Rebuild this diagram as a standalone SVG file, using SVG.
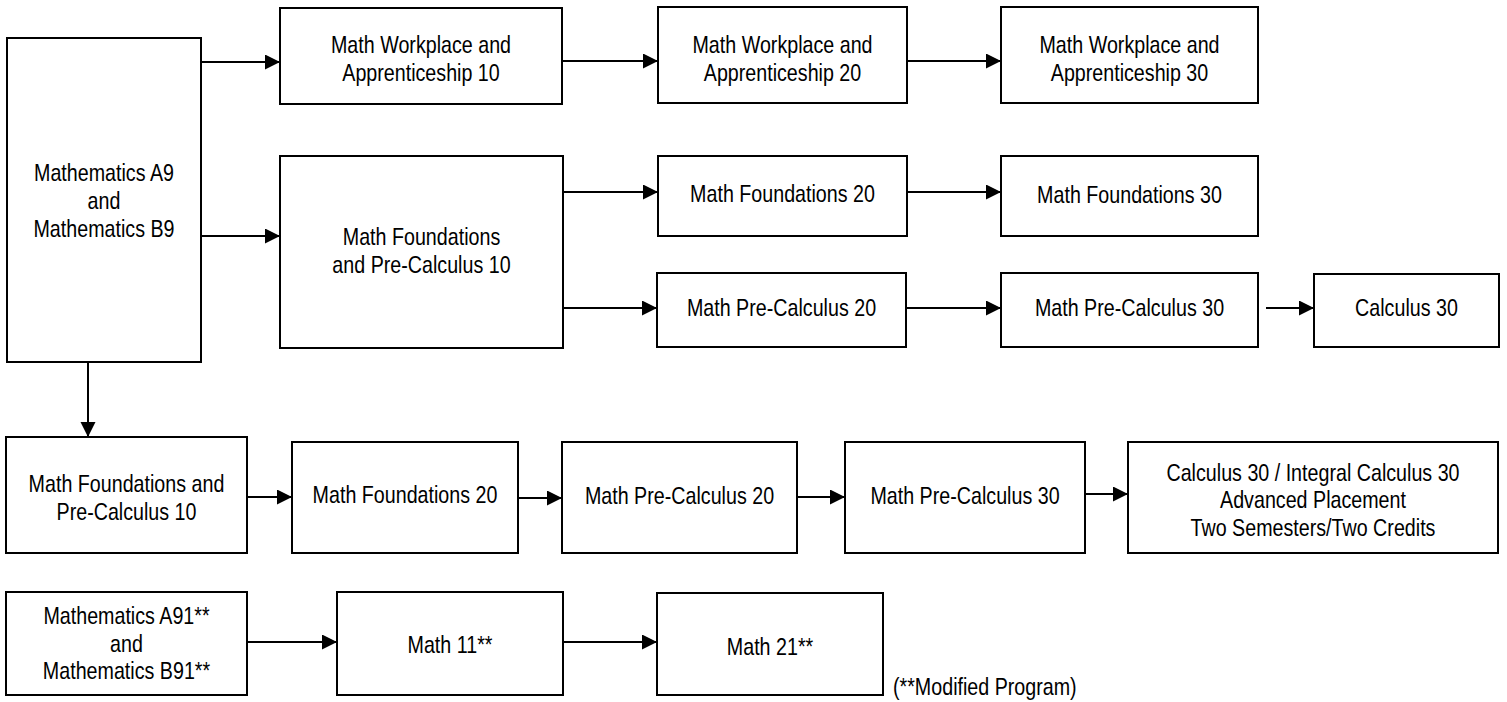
<svg xmlns="http://www.w3.org/2000/svg" width="1507" height="702" viewBox="0 0 1507 702">
<style>
rect.box{fill:#fff;stroke:#000;stroke-width:2}
text{font-family:"Liberation Sans",Arial,sans-serif;font-size:24px;fill:#000;text-anchor:middle}
text.note{text-anchor:start}
.conn line{stroke:#000;stroke-width:2;marker-end:url(#arr)}
</style>
<defs>
<marker id="arr" markerUnits="userSpaceOnUse" markerWidth="16" markerHeight="16" refX="15" refY="7.5" orient="auto">
<path d="M0,0 L15,7.5 L0,15 z" fill="#000"/>
</marker>
</defs>
<rect width="1507" height="702" fill="#fff"/>
<g class="conn" id="connectors">
<line x1="201" y1="62" x2="280" y2="62"/>
<line x1="201" y1="236" x2="280" y2="236"/>
<line x1="562" y1="61" x2="658" y2="61"/>
<line x1="907" y1="61" x2="1001" y2="61"/>
<line x1="563" y1="192" x2="658" y2="192"/>
<line x1="563" y1="308" x2="657" y2="308"/>
<line x1="907" y1="192" x2="1001" y2="192"/>
<line x1="906" y1="308" x2="1001" y2="308"/>
<line x1="1266" y1="308" x2="1314" y2="308"/>
<line x1="88" y1="362" x2="88" y2="437"/>
<line x1="247" y1="497" x2="292" y2="497"/>
<line x1="518" y1="498" x2="562" y2="498"/>
<line x1="797" y1="497" x2="845" y2="497"/>
<line x1="1085" y1="494" x2="1128" y2="494"/>
<line x1="247" y1="642" x2="337" y2="642"/>
<line x1="563" y1="642" x2="657" y2="642"/>
</g>
<g id="n_ab9"><rect class="box" x="7" y="38" width="194" height="324"/><g transform="translate(104,0) scale(0.82,1)"><text x="0" y="181">Mathematics A9</text><text x="0" y="209">and</text><text x="0" y="237">Mathematics B9</text></g></g>
<g id="n_mwa10"><rect class="box" x="280" y="8" width="282" height="96"/><g transform="translate(421,0) scale(0.82,1)"><text x="0" y="53">Math Workplace and</text><text x="0" y="81">Apprenticeship 10</text></g></g>
<g id="n_mwa20"><rect class="box" x="658" y="7" width="249" height="96"/><g transform="translate(782.5,0) scale(0.82,1)"><text x="0" y="53">Math Workplace and</text><text x="0" y="81">Apprenticeship 20</text></g></g>
<g id="n_mwa30"><rect class="box" x="1001" y="7" width="257" height="96"/><g transform="translate(1129.5,0) scale(0.82,1)"><text x="0" y="53">Math Workplace and</text><text x="0" y="81">Apprenticeship 30</text></g></g>
<g id="n_mfpc10"><rect class="box" x="280" y="156" width="283" height="192"/><g transform="translate(421.5,0) scale(0.82,1)"><text x="0" y="245">Math Foundations</text><text x="0" y="273">and Pre-Calculus 10</text></g></g>
<g id="n_mf20"><rect class="box" x="658" y="156" width="249" height="80"/><g transform="translate(782.5,0) scale(0.82,1)"><text x="0" y="202">Math Foundations 20</text></g></g>
<g id="n_mf30"><rect class="box" x="1001" y="156" width="257" height="80"/><g transform="translate(1129.5,0) scale(0.82,1)"><text x="0" y="203">Math Foundations 30</text></g></g>
<g id="n_mpc20"><rect class="box" x="657" y="273" width="249" height="74"/><g transform="translate(781.5,0) scale(0.82,1)"><text x="0" y="316">Math Pre-Calculus 20</text></g></g>
<g id="n_mpc30"><rect class="box" x="1001" y="273" width="257" height="74"/><g transform="translate(1129.5,0) scale(0.82,1)"><text x="0" y="316">Math Pre-Calculus 30</text></g></g>
<g id="n_calc30"><rect class="box" x="1314" y="274" width="185" height="73"/><g transform="translate(1406.5,0) scale(0.82,1)"><text x="0" y="316">Calculus 30</text></g></g>
<g id="n_mfpc10b"><rect class="box" x="6" y="437" width="241" height="116"/><g transform="translate(126.5,0) scale(0.82,1)"><text x="0" y="492">Math Foundations and</text><text x="0" y="520">Pre-Calculus 10</text></g></g>
<g id="n_mf20b"><rect class="box" x="292" y="442" width="226" height="111"/><g transform="translate(405,0) scale(0.82,1)"><text x="0" y="503">Math Foundations 20</text></g></g>
<g id="n_mpc20b"><rect class="box" x="562" y="442" width="235" height="111"/><g transform="translate(679.5,0) scale(0.82,1)"><text x="0" y="504">Math Pre-Calculus 20</text></g></g>
<g id="n_mpc30b"><rect class="box" x="845" y="442" width="240" height="111"/><g transform="translate(965,0) scale(0.82,1)"><text x="0" y="504">Math Pre-Calculus 30</text></g></g>
<g id="n_calcap"><rect class="box" x="1128" y="442" width="370" height="111"/><g transform="translate(1313,0) scale(0.82,1)"><text x="0" y="481">Calculus 30 / Integral Calculus 30</text><text x="0" y="508">Advanced Placement</text><text x="0" y="536">Two Semesters/Two Credits</text></g></g>
<g id="n_a91"><rect class="box" x="6" y="592" width="241" height="103"/><g transform="translate(126.5,0) scale(0.82,1)"><text x="0" y="624">Mathematics A91**</text><text x="0" y="652">and</text><text x="0" y="679">Mathematics B91**</text></g></g>
<g id="n_m11"><rect class="box" x="337" y="592" width="226" height="103"/><g transform="translate(450,0) scale(0.82,1)"><text x="0" y="653">Math 11**</text></g></g>
<g id="n_m21"><rect class="box" x="657" y="593" width="226" height="102"/><g transform="translate(770,0) scale(0.82,1)"><text x="0" y="655">Math 21**</text></g></g>
<g id="note"><g transform="translate(893,0) scale(0.82,1)"><text class="note" x="0" y="695">(**Modified Program)</text></g></g>
</svg>
